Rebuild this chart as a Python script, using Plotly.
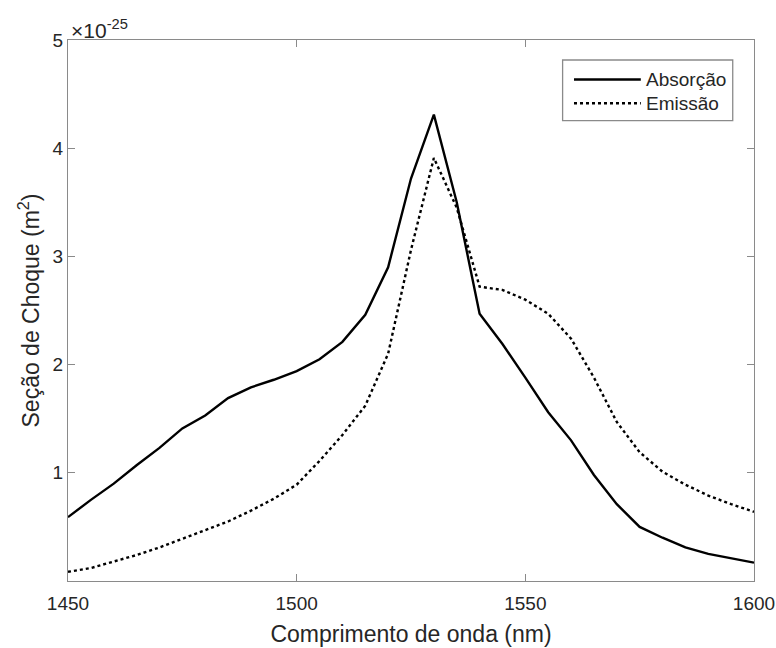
import plotly.graph_objects as go

wavelength = list(range(1450, 1601, 5))

absorcao = [0.59, 0.75, 0.90, 1.07, 1.23, 1.41, 1.53, 1.69, 1.79, 1.86,
            1.94, 2.05, 2.21, 2.46, 2.90, 3.72, 4.31, 3.50, 2.47, 2.19,
            1.88, 1.56, 1.30, 0.98, 0.71, 0.50, 0.40, 0.31, 0.25, 0.21, 0.17]

emissao = [0.085, 0.12, 0.18, 0.24, 0.31, 0.39, 0.47, 0.55, 0.65, 0.76,
           0.89, 1.11, 1.35, 1.62, 2.10, 3.06, 3.91, 3.45, 2.72, 2.69,
           2.60, 2.47, 2.24, 1.88, 1.47, 1.19, 1.01, 0.89, 0.79, 0.71, 0.64]

series_names = ["Absorção", "Emissão"]
x_ticks = [1450, 1500, 1550, 1600]
y_ticks = [1, 2, 3, 4, 5]

FONT = "Liberation Sans, Arial, Helvetica, sans-serif"
TXT = "#262626"
AX = "#8a8a8a"

line_styles = [dict(color="black", width=2.4), dict(color="black", width=2.4, dash="dot")]

fig = go.Figure()
for name, ys, ls in zip(series_names, [absorcao, emissao], line_styles):
    fig.add_trace(go.Scatter(x=wavelength, y=ys, mode="lines", name=name,
                             line=ls, showlegend=False))

fig.update_layout(
    width=776, height=648,
    margin=dict(l=68, r=22, t=40, b=67, autoexpand=False),
    paper_bgcolor="white", plot_bgcolor="white",
    font=dict(family=FONT, color=TXT, size=19),
    xaxis=dict(range=[1450, 1600], tickvals=x_ticks, ticks="inside", ticklen=7,
               tickcolor=AX, showline=True, linecolor=AX, linewidth=1.3,
               mirror="ticks", showgrid=False, zeroline=False, automargin=False,
               ticklabelstandoff=5,
               tickfont=dict(size=19, color=TXT),
               title=dict(text="Comprimento de onda (nm)", font=dict(size=23, color=TXT), standoff=12)),
    yaxis=dict(range=[0, 5], tickvals=y_ticks, ticks="inside", ticklen=7,
               tickcolor=AX, showline=True, linecolor=AX, linewidth=1.3,
               mirror="ticks", showgrid=False, zeroline=False, automargin=False,
               tickfont=dict(size=19, color=TXT),
               title=dict(text="Seção de Choque (m<sup>2</sup>)", font=dict(size=23, color=TXT), standoff=6)),
)

# exponent label (MATLAB style)
fig.add_annotation(xref="paper", yref="paper", x=0, y=1, xanchor="left", yanchor="bottom",
                   text="×10<sup>-25</sup>", showarrow=False, xshift=1, yshift=-4,
                   font=dict(size=21, color=TXT))

# legend box (MATLAB style, long line samples)
fig.add_shape(type="rect", xref="paper", yref="paper", x0=0.721, x1=0.969, y0=0.851, y1=0.963,
              line=dict(color=AX, width=1.3), fillcolor="white", layer="above")
rows_y = [0.927, 0.883]
for name, ls, yy in zip(series_names, line_styles, rows_y):
    fig.add_shape(type="line", xref="paper", yref="paper", x0=0.7376, x1=0.835, y0=yy, y1=yy,
                  line=ls, layer="above")
    fig.add_annotation(xref="paper", yref="paper", x=0.839, y=yy, xanchor="left", yanchor="middle",
                       text=name, showarrow=False, font=dict(size=19, color=TXT))

fig.write_html("out.html")
